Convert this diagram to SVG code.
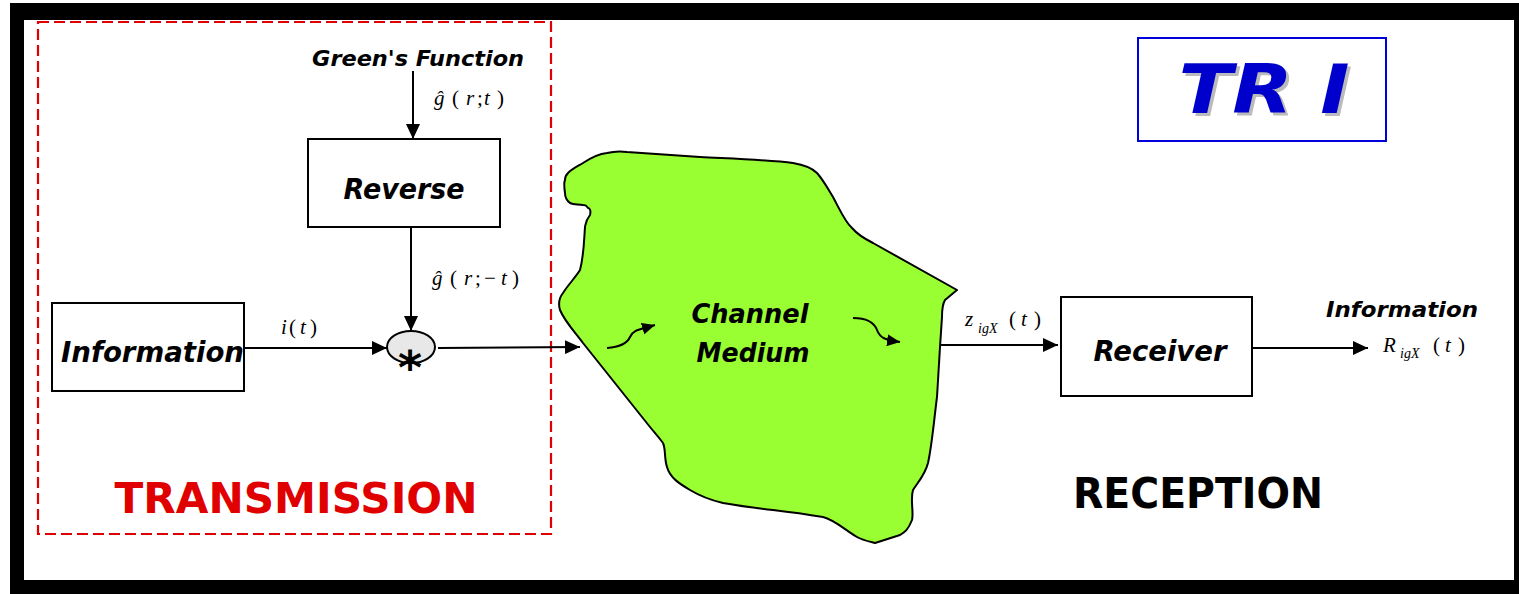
<svg xmlns="http://www.w3.org/2000/svg" width="1519" height="594" viewBox="0 0 1519 594">
  <style>
    .box { fill: #fff; stroke: #000; stroke-width: 2; }
    .lbl { font-family: "DejaVu Sans", sans-serif; font-weight: bold; font-style: italic; fill: #000; }
    .math { font-family: "Liberation Serif", serif; font-size: 21px; fill: #000; }
    .it { font-style: italic; }
    .sub { font-size: 14px; font-style: italic; }
    .wire { stroke: #000; stroke-width: 2; fill: none; }
    .big { font-family: "DejaVu Sans", sans-serif; font-weight: bold; font-size: 42px; }
  </style>
  <defs>
    <marker id="arr" markerUnits="userSpaceOnUse" markerWidth="16" markerHeight="14" refX="15" refY="7" orient="auto">
      <path d="M0,0 L15,7 L0,14 Z" fill="#000"/>
    </marker>
    <marker id="arrS" markerUnits="userSpaceOnUse" markerWidth="14" markerHeight="12" refX="13" refY="6" orient="auto">
      <path d="M0,0 L13,6 L0,12 Z" fill="#000"/>
    </marker>
  </defs>

  <!-- page frame -->
  <rect x="0" y="0" width="1519" height="594" fill="#fff"/>
  <rect x="10" y="3" width="1509" height="591" fill="#000"/>
  <rect x="24" y="20" width="1490" height="560" fill="#fff"/>

  <!-- transmission region -->
  <g id="transmission">
    <rect x="38" y="22" width="513" height="512" fill="none" stroke="#e00000" stroke-width="2.2" stroke-dasharray="11,5"/>
    <text x="296" y="513" class="big" fill="#e00000" text-anchor="middle" textLength="363" lengthAdjust="spacingAndGlyphs">TRANSMISSION</text>
  </g>

  <!-- channel medium -->
  <g id="channel">
    <path d="M568,173 C573,168 578,166 583,163 C592,157 598,154 607,153 C615,151 620,151 627,152 L700,157 C740,159 770,160 793,163 C805,165 812,168 817,173 C824,181 828,189 833,197 C840,210 845,222 852,228 C858,235 865,239 873,243 L957,290 L945,300 C942,305 942,311 942,317 L940,347 L937,397 C934,420 932,445 928,463 C925,475 918,482 913,490 C910,500 914,512 912,520 C908,530 905,532 900,535 L875,543 C867,541 862,540 857,537 C845,530 835,520 823,517 C805,514 790,512 773,510 C755,508 740,506 723,503 C710,500 700,496 690,490 C680,484 670,478 667,467 C664,458 666,450 663,443 C658,436 654,432 650,427 L583,343 C575,332 565,322 560,310 C558,303 559,298 563,293 C568,285 575,278 580,270 C584,255 584,240 585,227 C586,222 586,220 590,215 C591,211 590,208 588,208 C586,205 585,205 583,205 C578,204 574,205 570,203 C566,200 565,196 565,193 C564,186 564,182 565,180 C565,177 566,175 568,173 Z" fill="#99ff33" stroke="#000" stroke-width="2" stroke-linejoin="round"/>
    <path d="M607,348 C620,347 627,344 630,337 C633,330 638,330 655,325" class="wire" stroke-width="1.5" marker-end="url(#arrS)"/>
    <path d="M853,318 C866,318 874,322 877,330 C880,338 885,340 900,342" class="wire" stroke-width="1.5" marker-end="url(#arrS)"/>
    <text x="750" y="323" class="lbl" font-size="27" text-anchor="middle" textLength="117" lengthAdjust="spacingAndGlyphs">Channel</text>
    <text x="753" y="362" class="lbl" font-size="27" text-anchor="middle" textLength="113" lengthAdjust="spacingAndGlyphs">Medium</text>
  </g>

  <!-- source label -->
  <g id="greens-function">
    <text x="418" y="66" class="lbl" font-size="22" text-anchor="middle" textLength="212" lengthAdjust="spacingAndGlyphs">Green's Function</text>
  </g>

  <g id="reverse">
    <rect x="308" y="139" width="192" height="88" class="box"/>
    <text x="404" y="199" class="lbl" font-size="28" text-anchor="middle" textLength="121" lengthAdjust="spacingAndGlyphs">Reverse</text>
  </g>

  <g id="information-in">
    <rect x="52" y="303" width="192" height="88" class="box"/>
    <text x="61" y="362" class="lbl" font-size="28" textLength="183" lengthAdjust="spacingAndGlyphs">Information</text>
  </g>

  <g id="convolution">
    <ellipse cx="411" cy="347" rx="24" ry="16" fill="#e8e8e8" stroke="#000" stroke-width="2"/>
    <text x="410" y="384" font-family="DejaVu Sans, sans-serif" font-weight="bold" font-size="46" text-anchor="middle">*</text>
  </g>

  <g id="receiver">
    <rect x="1061" y="297" width="191" height="99" class="box"/>
    <text x="1160" y="361" class="lbl" font-size="28" text-anchor="middle" textLength="133" lengthAdjust="spacingAndGlyphs">Receiver</text>
  </g>

  <g id="information-out">
    <text x="1402" y="317" class="lbl" font-size="22" text-anchor="middle" textLength="152" lengthAdjust="spacingAndGlyphs">Information</text>
  </g>

  <g id="reception">
    <text x="1198" y="508" class="big" fill="#000" text-anchor="middle" textLength="250" lengthAdjust="spacingAndGlyphs">RECEPTION</text>
  </g>

  <g id="title">
    <rect x="1138" y="38" width="248" height="103" fill="none" stroke="#0000dd" stroke-width="2"/>
    <text x="1267" y="116" font-family="DejaVu Sans, sans-serif" font-weight="bold" font-style="italic" font-size="68" fill="#bbbbbb" text-anchor="middle" textLength="171" lengthAdjust="spacingAndGlyphs">TR I</text>
    <text x="1264" y="113" font-family="DejaVu Sans, sans-serif" font-weight="bold" font-style="italic" font-size="68" fill="#0000cc" text-anchor="middle" textLength="171" lengthAdjust="spacingAndGlyphs">TR I</text>
  </g>

  <!-- connectors -->
  <g id="connectors">
    <line x1="413" y1="71" x2="413" y2="139" class="wire" marker-end="url(#arr)"/>
    <line x1="411" y1="227" x2="411" y2="331" class="wire" marker-end="url(#arr)"/>
    <line x1="244" y1="348" x2="387" y2="348" class="wire" marker-end="url(#arr)"/>
    <line x1="438" y1="348" x2="580" y2="347" class="wire" marker-end="url(#arr)"/>
    <line x1="940" y1="345" x2="1058" y2="345" class="wire" marker-end="url(#arr)"/>
    <line x1="1252" y1="348" x2="1368" y2="348" class="wire" marker-end="url(#arr)"/>

    <text class="math" y="105"><tspan x="434" class="it">ĝ</tspan><tspan x="452">(</tspan><tspan x="466" class="it">r</tspan><tspan x="477">;</tspan><tspan x="484" class="it">t</tspan><tspan x="497">)</tspan></text>
    <text class="math" y="285"><tspan x="432" class="it">ĝ</tspan><tspan x="450">(</tspan><tspan x="464" class="it">r</tspan><tspan x="475">;</tspan><tspan x="484">−</tspan><tspan x="501" class="it">t</tspan><tspan x="512">)</tspan></text>
    <text class="math" y="334"><tspan x="281" class="it">i</tspan><tspan x="289">(</tspan><tspan x="300" class="it">t</tspan><tspan x="310">)</tspan></text>
    <text class="math" y="326"><tspan x="965" class="it">z</tspan><tspan x="978" y="333" class="sub">igX</tspan><tspan x="1009" y="326">(</tspan><tspan x="1021" class="it">t</tspan><tspan x="1034">)</tspan></text>
    <text class="math" y="352"><tspan x="1383" class="it">R</tspan><tspan x="1400" y="358" class="sub">igX</tspan><tspan x="1433" y="352">(</tspan><tspan x="1445" class="it">t</tspan><tspan x="1458">)</tspan></text>
  </g>
</svg>
